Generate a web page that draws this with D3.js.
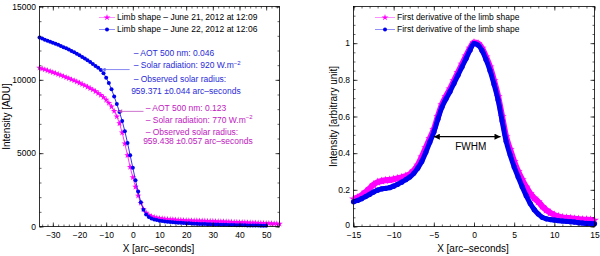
<!DOCTYPE html>
<html>
<head>
<meta charset="utf-8">
<script src="https://cdn.jsdelivr.net/npm/d3@7"></script>
<style>
  body { margin: 0; background: #fff; }
  svg { display: block; font-family: "Liberation Sans", Arial, sans-serif; }
  .tick text { font-size: 8.5px; fill: #000; }
  .tick line { stroke: #000; stroke-width: 0.7; }
  .minor .tick line { stroke-width: 0.6; }
</style>
</head>
<body>
<div id="chart"></div>
<script>
const WIDTH = 600, HEIGHT = 256;
const MAGENTA = '#ff00ff', BLUE = '#0000f0';

// ---- left panel: limb shapes, one sample per arc-second ----
const limbStart = -35;
const limbJune21 = [
	10820, 10760, 10700, 10640, 10580, 10510, 10450, 10380, 10310, 10240,
	10170, 10100, 10020, 9950, 9870, 9790, 9700, 9610, 9520, 9420,
	9320, 9210, 9090, 8960, 8810, 8630, 8420, 8170, 7870, 7500,
	7030, 6400, 5650, 4850, 4050, 3350, 2700, 2100, 1600, 1180,
	930, 780, 690, 630, 590, 560, 535, 515, 498, 482,
	468, 455, 443, 432, 422, 412, 407, 402, 397, 392,
	386, 381, 375, 369, 363, 357, 350, 343, 336, 329,
	322, 315, 308, 301, 294, 287, 280, 273, 266, 259,
	252, 245, 238, 231, 224, 217, 210, 203, 196, 189, 182
];
const limbJune22 = [
	12880, 12810, 12740, 12670, 12600, 12530, 12460, 12390, 12310, 12230,
	12150, 12060, 11970, 11880, 11780, 11670, 11560, 11450, 11330, 11210,
	11080, 10950, 10820, 10670, 10450, 10150, 9780, 9350, 8870, 8350,
	7800, 7200, 6500, 5700, 4850, 4000, 3150, 2380, 1650, 1150,
	820, 640, 540, 480, 440, 400, 370, 345, 325, 305,
	290, 275, 262, 250, 238, 226, 215, 205, 196, 187,
	178, 170, 162, 155, 148, 141, 135, 129, 123, 117,
	112, 107, 102, 97, 92, 88, 84, 80, 76, 72,
	68, 64, 60, 56, 52, 48
];
const limbTicksX = [-30, -20, -10, 0, 10, 20, 30, 40, 50];
const limbTicksY = [0, 5000, 10000, 15000];
const limbLegend = ['Limb shape \u2013 June 21, 2012 at 12:09', 'Limb shape \u2013 June 22, 2012 at 12:06'];
const noteJune22 = ['\u2013 AOT 500 nm: 0.046', '\u2013 Solar radiation: 920 W.m', '\u2013 Observed solar radius:', '959.371 \u00b10.044 arc\u2013seconds'];
const noteJune21 = ['\u2013 AOT 500 nm: 0.123', '\u2013 Solar radiation: 770 W.m', '\u2013 Observed solar radius:', '959.438 \u00b10.057 arc\u2013seconds'];

// ---- right panel: first derivatives, one sample per half arc-second ----
const derivStart = -15, derivStep = 0.5;
const derivJune21 = [
	0.150, 0.158, 0.170, 0.188, 0.208, 0.228, 0.242, 0.248, 0.252, 0.254,
	0.258, 0.263, 0.268, 0.275, 0.285, 0.305, 0.335, 0.380, 0.430, 0.480,
	0.530, 0.600, 0.665, 0.710, 0.750, 0.795, 0.840, 0.885, 0.930, 0.972,
	1.003, 0.998, 0.972, 0.925, 0.870, 0.795, 0.710, 0.600, 0.490, 0.420,
	0.355, 0.300, 0.255, 0.215, 0.180, 0.155, 0.135, 0.110, 0.090, 0.075,
	0.063, 0.055, 0.050, 0.047, 0.045, 0.042, 0.040, 0.038, 0.037, 0.036, 0.035
];
const derivJune22 = [
	0.135, 0.142, 0.152, 0.163, 0.175, 0.188, 0.198, 0.205, 0.208, 0.212,
	0.220, 0.230, 0.242, 0.255, 0.270, 0.290, 0.318, 0.355, 0.405, 0.460,
	0.515, 0.585, 0.650, 0.695, 0.735, 0.780, 0.825, 0.870, 0.915, 0.962,
	0.998, 0.990, 0.960, 0.910, 0.850, 0.775, 0.690, 0.575, 0.465, 0.390,
	0.325, 0.270, 0.217, 0.168, 0.125, 0.092, 0.068, 0.050, 0.042, 0.038,
	0.035, 0.032, 0.030, 0.028, 0.026, 0.024, 0.021, 0.019, 0.017, 0.016, 0.015
];
const derivTicksX = [-15, -10, -5, 0, 5, 10, 15];
const derivTicksY = [0, 0.2, 0.4, 0.6, 0.8, 1];
const derivLegend = ['First derivative of the limb shape', 'First derivative of the limb shape'];
const fwhmEnds = [-5, 3.3], fwhmLevel = 0.49;

const toPoints = (values, start, step) => values.map((v, i) => ({ x: start + i * step, y: v }));

const svg = d3.select('#chart').append('svg')
	.attr('width', WIDTH)
	.attr('height', HEIGHT);

const defs = svg.append('defs');
function arrowMarker(id, color, w, h) {
	defs.append('marker')
		.attr('id', id)
		.attr('viewBox', '0 0 10 10')
		.attr('refX', 10).attr('refY', 5)
		.attr('markerUnits', 'userSpaceOnUse')
		.attr('markerWidth', w).attr('markerHeight', h)
		.attr('orient', 'auto-start-reverse')
		.append('path')
		.attr('d', 'M0,0L10,5L0,10Z')
		.attr('fill', color);
}
arrowMarker('arrow-blue', '#6a6af0', 6, 4);
arrowMarker('arrow-pink', '#c050c0', 6, 4);
arrowMarker('arrow-black', '#000', 7, 6);

const star = d3.symbol().type(d3.symbolStar);

// box, inward ticks on all four sides, minor ticks, labels
function drawFrame(g, x, y, o) {
	const [x0, x1] = x.range(), [y1, y0] = y.range();
	const fmt = (d) => d3.format(o.fmt)(d).replace('-', '\u2212');
	const sides = [
		[d3.axisBottom(x), `translate(0,${y1})`, 5.5, o.ticksX, o.minorX],
		[d3.axisTop(x), `translate(0,${y0})`, 0, o.ticksX, o.minorX],
		[d3.axisLeft(y), `translate(${x0},0)`, 3.5, o.ticksY, o.minorY],
		[d3.axisRight(y), `translate(${x1},0)`, 0, o.ticksY, o.minorY]
	];
	sides.forEach(([axis, tr, pad, major, minor], i) => {
		g.append('g').attr('class', 'minor').attr('transform', tr)
			.call(axis.tickValues(minor).tickSize(-2).tickFormat(''))
			.call(s => s.select('.domain').remove());
		const a = g.append('g').attr('transform', tr)
			.call(axis.tickValues(major).tickSize(-4).tickPadding(pad)
				.tickFormat(pad ? fmt : ''))
			.call(s => s.select('.domain').remove());
		// lift the y "0" a touch so it clears the first x label
		if (i === 2 && o.zeroLift) {
			a.selectAll('.tick').filter(d => d === 0).select('text').attr('y', -o.zeroLift);
		}
	});
	g.append('rect')
		.attr('x', x0).attr('y', y0)
		.attr('width', x1 - x0).attr('height', y1 - y0)
		.attr('fill', 'none').attr('stroke', '#000').attr('stroke-width', 0.8);

	g.append('text')
		.attr('x', (x0 + x1) / 2 - 1).attr('y', 251.5)
		.attr('text-anchor', 'middle').attr('font-size', 10)
		.text('X [arc\u2013seconds]');
	g.append('text')
		.attr('transform', `translate(${o.yLabelX},${(y0 + y1) / 2}) rotate(-90)`)
		.attr('text-anchor', 'middle').attr('font-size', 10)
		.text(o.yLabel);
}

function drawLegend(g, lx0, lx1, texts, lineW) {
	const rows = [{ c: MAGENTA, kind: 'star', y: 17.5 }, { c: BLUE, kind: 'dot', y: 29.5 }];
	rows.forEach((r, i) => {
		g.append('line')
			.attr('x1', lx0).attr('x2', lx1).attr('y1', r.y).attr('y2', r.y)
			.attr('stroke', r.c).attr('stroke-opacity', 0.55).attr('stroke-width', lineW);
		if (r.kind === 'star') {
			g.append('path').attr('d', star.size(14)())
				.attr('transform', `translate(${(lx0 + lx1) / 2},${r.y})`)
				.attr('fill', r.c);
		} else {
			g.append('circle').attr('cx', (lx0 + lx1) / 2).attr('cy', r.y).attr('r', 2).attr('fill', r.c);
		}
		g.append('text')
			.attr('x', lx1 + 2).attr('y', r.y).attr('dy', '0.35em')
			.attr('font-size', 8.5)
			.text(texts[i]);
	});
}

// ---------------- left panel ----------------
{
	const g = svg.append('g');
	const x = d3.scaleLinear().domain([-35, 55]).range([39.5, 279.5]);
	const y = d3.scaleLinear().domain([0, 15000]).range([226.5, 6.5]);
	const d21 = toPoints(limbJune21, limbStart, 1);
	const d22 = toPoints(limbJune22, limbStart, 1);
	const line = d3.line().x(d => x(d.x)).y(d => y(d.y));

	g.append('path').datum(d21).attr('d', line)
		.attr('fill', 'none').attr('stroke', MAGENTA).attr('stroke-width', 0.8);
	g.selectAll('.star21').data(d21).enter().append('path')
		.attr('class', 'star21')
		.attr('d', star.size(13)())
		.attr('transform', d => `translate(${x(d.x)},${y(d.y)})`)
		.attr('fill', MAGENTA);
	g.append('path').datum(d22).attr('d', line)
		.attr('fill', 'none').attr('stroke', BLUE).attr('stroke-width', 0.8);
	g.selectAll('.dot22').data(d22).enter().append('circle')
		.attr('class', 'dot22')
		.attr('cx', d => x(d.x)).attr('cy', d => y(d.y)).attr('r', 2)
		.attr('fill', BLUE);

	// callouts
	const notes = [
		{ lines: noteJune22, color: '#2a2ad8', arrow: 'arrow-blue', ac: '#6a6af0', tx: x(0.3), ty: [53.5, 65.5, 79, 91], a: [x(-1.2), x(-11.7), y(10700)] },
		{ lines: noteJune21, color: '#c020c0', arrow: 'arrow-pink', ac: '#c050c0', tx: x(4.8), ty: [108.5, 120, 132, 141.5], a: [x(4), x(-5.5), y(7850)] }
	];
	notes.forEach((n) => {
		g.append('line')
			.attr('x1', n.a[0]).attr('x2', n.a[1]).attr('y1', n.a[2]).attr('y2', n.a[2])
			.attr('stroke', n.ac).attr('stroke-width', 0.8)
			.attr('marker-end', `url(#${n.arrow})`);
		n.lines.forEach((t, i) => {
			const txt = g.append('text')
				.attr('x', n.tx - (i === 3 ? 2.5 : 0)).attr('y', n.ty[i]).attr('dy', '0.35em')
				.attr('font-size', 8.5).attr('fill', n.color)
				.text(t);
			if (i === 1) {
				txt.append('tspan').attr('dy', -3.5).attr('font-size', 6).text('\u22122');
			}
		});
	});

	drawLegend(g, 99, 115, limbLegend, 0.8);
	drawFrame(g, x, y, {
		ticksX: limbTicksX, minorX: d3.range(-34, 55, 2),
		ticksY: limbTicksY, minorY: d3.range(0, 15001, 1000),
		fmt: 'd', yLabel: 'Intensity [ADU]', yLabelX: 10
	});
}

// ---------------- right panel ----------------
{
	const g = svg.append('g');
	const x = d3.scaleLinear().domain([-15, 15]).range([353.5, 594.5]);
	const y = d3.scaleLinear().domain([0, 1.2]).range([226.5, 6.5]);
	const d21 = toPoints(derivJune21, derivStart, derivStep);
	const d22 = toPoints(derivJune22, derivStart, derivStep);
	const line = d3.line().x(d => x(d.x)).y(d => y(d.y)).curve(d3.curveMonotoneX);

	g.append('path').datum(d21).attr('d', line)
		.attr('fill', 'none').attr('stroke', MAGENTA).attr('stroke-width', 6)
		.attr('stroke-linejoin', 'round');
	g.selectAll('.star21').data(d21).enter().append('path')
		.attr('d', star.size(24)())
		.attr('transform', d => `translate(${x(d.x)},${y(d.y)})`)
		.attr('fill', MAGENTA);
	g.append('path').datum(d22).attr('d', line)
		.attr('fill', 'none').attr('stroke', BLUE).attr('stroke-width', 5)
		.attr('stroke-linejoin', 'round');
	g.selectAll('.dot22').data(d22).enter().append('circle')
		.attr('cx', d => x(d.x)).attr('cy', d => y(d.y)).attr('r', 2.6)
		.attr('fill', BLUE);

	// full width at half maximum
	g.append('line')
		.attr('x1', x(fwhmEnds[0])).attr('x2', x(fwhmEnds[1]))
		.attr('y1', y(fwhmLevel)).attr('y2', y(fwhmLevel))
		.attr('stroke', '#000').attr('stroke-width', 1.3)
		.attr('marker-start', 'url(#arrow-black)')
		.attr('marker-end', 'url(#arrow-black)');
	g.append('text')
		.attr('x', x(-0.4)).attr('y', y(fwhmLevel) + 10).attr('dy', '0.35em')
		.attr('text-anchor', 'middle').attr('font-size', 10)
		.text('FWHM');

	drawLegend(g, 375, 395, derivLegend, 0.8);
	drawFrame(g, x, y, {
		ticksX: derivTicksX, minorX: d3.range(-15, 15.01, 1),
		ticksY: derivTicksY, minorY: d3.range(0, 1.2001, 0.05),
		fmt: '~g', yLabel: 'Intensity [arbitrary unit]', yLabelX: 337, zeroLift: 2
	});
}
</script>
</body>
</html>
